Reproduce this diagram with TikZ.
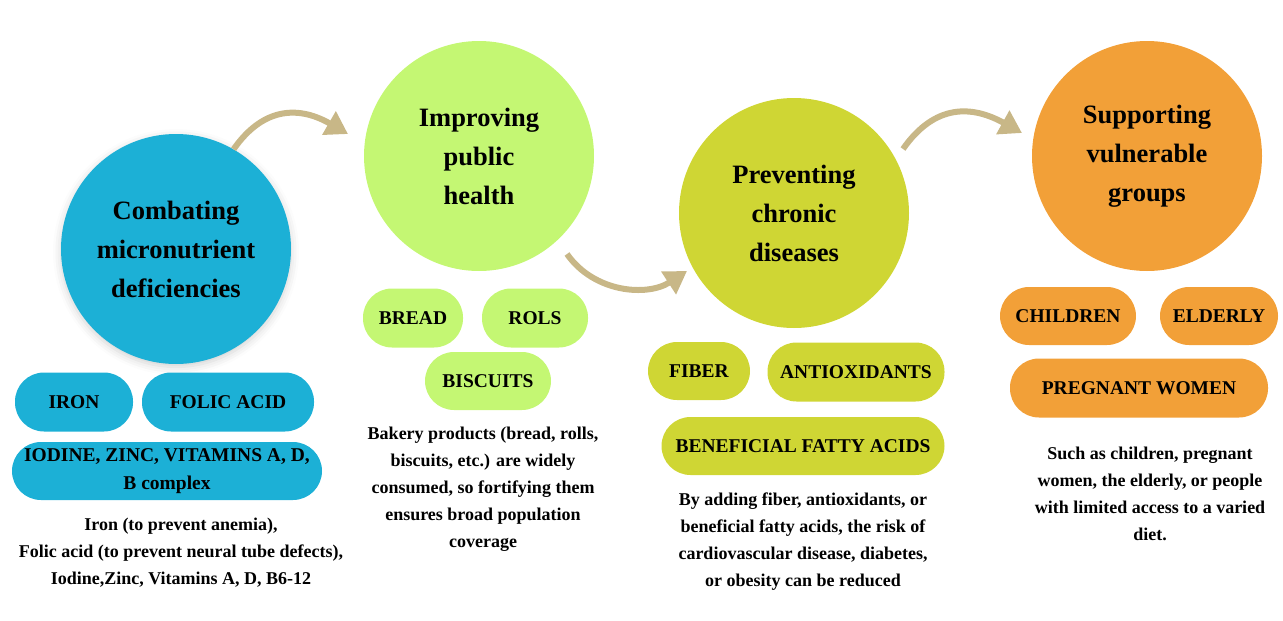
\documentclass[tikz,border=0pt]{standalone}
\usepackage{fontspec}
\setmainfont{Liberation Serif}
\usetikzlibrary{arrows.meta,positioning,shadows.blur}

\definecolor{microblue}{RGB}{28,176,214}
\definecolor{healthlime}{RGB}{196,247,115}
\definecolor{chronicolive}{RGB}{207,214,52}
\definecolor{groupsorange}{RGB}{242,160,56}
\definecolor{arrowtan}{RGB}{200,183,135}

\begin{document}
\begin{tikzpicture}[
  x=1pt, y=-1pt,
  topic/.style={
    circle,
    minimum size=230pt,
    inner sep=0pt,
    align=center,
    font=\fontsize{26.5}{39}\selectfont\bfseries
  },
  tag/.style={
    rectangle,
    rounded corners=29pt,
    minimum height=59pt,
    inner sep=0pt,
    align=center,
    font=\fontsize{19.5}{28}\selectfont\bfseries
  },
  note/.style={
    inner sep=0pt,
    align=center,
    font=\fontsize{18}{27}\selectfont\bfseries
  },
  flow/.style={-{Triangle[length=22pt,width=26pt]}, line width=6pt, draw=arrowtan}
]
\useasboundingbox (0,0) rectangle (1283,621);

% --- MICRONUTRIENTS ------------------------------------------------
\node[topic, fill=microblue,
  blur shadow={shadow xshift=0pt, shadow yshift=-3pt, shadow opacity=18, shadow blur radius=8pt}]
  (micro) at (176,249) {Combating\\micronutrient\\deficiencies};

\node[tag, fill=microblue, minimum width=118pt] (iron) at (74,402) {IRON};
\node[tag, fill=microblue, minimum width=172pt] (folic) at (228,402) {FOLIC ACID};
\node[tag, fill=microblue, minimum width=310pt, minimum height=58pt] (iodine) at (167,471)
  {IODINE, ZINC, VITAMINS A, D,\\B complex};

\node[note, below=18pt of iodine, xshift=14pt] (micronote) {
  Iron (to prevent anemia),\\
  Folic acid (to prevent neural tube defects),\\
  Iodine,Zinc, Vitamins A, D, B6-12
};

% --- PUBLIC HEALTH -------------------------------------------------
\node[topic, fill=healthlime] (health) at (479,156) {Improving\\public\\health};

\node[tag, fill=healthlime, minimum width=100pt] (bread) at (413,318) {BREAD};
\node[tag, fill=healthlime, minimum width=106pt] (rolls) at (535,318) {ROLS};
\node[tag, fill=healthlime, minimum width=126pt, minimum height=58pt] (biscuits) at (488,381) {BISCUITS};

\node[note, below=17pt of biscuits, xshift=-5pt] (healthnote) {
  Bakery products (bread, rolls,\\
  biscuits, etc.) are widely\\
  consumed, so fortifying them\\
  ensures broad population\\
  coverage
};

% --- CHRONIC DISEASES ----------------------------------------------
\node[topic, fill=chronicolive] (chronic) at (794,213) {Preventing\\chronic\\diseases};

\node[tag, fill=chronicolive, minimum width=102pt, minimum height=58pt] (fiber) at (699,371) {FIBER};
\node[tag, fill=chronicolive, minimum width=177pt] (antiox) at (856,372) {ANTIOXIDANTS};
\node[tag, fill=chronicolive, minimum width=283pt, minimum height=58pt] (fatty) at (803,446) {BENEFICIAL FATTY ACIDS};

\node[note, below=17pt of fatty] (chronicnote) {
  By adding fiber, antioxidants, or\\
  beneficial fatty acids, the risk of\\
  cardiovascular disease, diabetes,\\
  or obesity can be reduced
};

% --- VULNERABLE GROUPS ---------------------------------------------
\node[topic, fill=groupsorange] (groups) at (1147,156) {Supporting\\vulnerable\\groups};

\node[tag, fill=groupsorange, minimum width=136pt, minimum height=58pt] (children) at (1068,316) {CHILDREN};
\node[tag, fill=groupsorange, minimum width=118pt, minimum height=58pt] (elderly) at (1219,316) {ELDERLY};
\node[tag, fill=groupsorange, minimum width=258pt] (pregnant) at (1139,388) {PREGNANT WOMEN};

\node[note, below=29pt of pregnant, xshift=11pt] (groupsnote) {
  Such as children, pregnant\\
  women, the elderly, or people\\
  with limited access to a varied\\
  diet.
};

% --- ARROWS --------------------------------------------------------
\coordinate (toHealth) at (348,134);
\coordinate (fromHealth) at (567,254);
\coordinate (toChronic) at (687,271);
\coordinate (fromChronic) at (903,149);
\coordinate (toGroups) at (1022,133);

\draw[flow] (micro.60) to[out=55, in=150, looseness=1.2] (toHealth);
\draw[flow] (fromHealth) to[out=-55, in=-147] (toChronic);
\draw[flow] (fromChronic) to[out=55, in=151, looseness=1.2] (toGroups);

\end{tikzpicture}
\end{document}
